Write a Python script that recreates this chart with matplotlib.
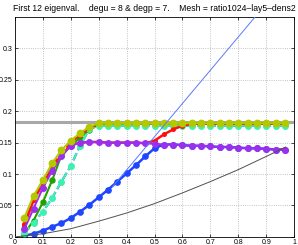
import numpy as np
import matplotlib.pyplot as plt

plt.rcParams['font.family'] = ['Liberation Sans', 'DejaVu Sans']

# parameter values (k/30)
x = [k / 30 for k in range(1, 30)]

blue_solid = [0.002, 0.005, 0.010, 0.016, 0.022, 0.030, 0.040, 0.051, 0.063, 0.075,
              0.088, 0.101, 0.114, 0.128, 0.141, 0.147, 0.147, 0.146, 0.145, 0.145,
              0.144, 0.143, 0.143, 0.142, 0.141, 0.141, 0.140, 0.139, 0.139]
green_solid = [0.005, 0.026, 0.055, 0.090, 0.130, 0.145, 0.158, 0.170, 0.179, 0.180,
               0.180, 0.180, 0.180, 0.180, 0.180, 0.180, 0.180, 0.180, 0.180, 0.180,
               0.180, 0.180, 0.180, 0.180, 0.180, 0.180, 0.180, 0.180, 0.180]
red_solid = [0.018, 0.058, 0.085, 0.110, 0.130, 0.146, 0.150, 0.151, 0.151, 0.150,
             0.150, 0.150, 0.150, 0.149, 0.153, 0.163, 0.171, 0.177, 0.180, 0.180,
             0.180, 0.180, 0.180, 0.180, 0.180, 0.180, 0.180, 0.180, 0.180]
red_dashed = [0.020, 0.060, 0.088, 0.113, 0.135, 0.150, 0.162, 0.173, 0.180, 0.181,
              0.181, 0.181, 0.181, 0.181, 0.181, 0.181, 0.181, 0.181, 0.181, 0.181,
              0.181, 0.181, 0.181, 0.181, 0.181, 0.181, 0.181, 0.181, 0.181]
cyan_dashed = [0.006, 0.022, 0.040, 0.062, 0.088, 0.113, 0.145, 0.172, 0.177, 0.177,
               0.177, 0.177, 0.177, 0.177, 0.177, 0.177, 0.177, 0.177, 0.177, 0.177,
               0.177, 0.177, 0.177, 0.177, 0.177, 0.177, 0.177, 0.177, 0.177]
purple_solid = [0.012, 0.045, 0.078, 0.105, 0.128, 0.145, 0.150, 0.151, 0.151, 0.150,
                0.150, 0.150, 0.150, 0.149, 0.148, 0.147, 0.147, 0.146, 0.145, 0.145,
                0.144, 0.143, 0.143, 0.142, 0.141, 0.141, 0.140, 0.139, 0.139]
olive_solid = [0.030, 0.065, 0.090, 0.117, 0.138, 0.153, 0.165, 0.175, 0.181, 0.181,
               0.181, 0.181, 0.181, 0.181, 0.181, 0.181, 0.181, 0.181, 0.181, 0.181,
               0.181, 0.181, 0.181, 0.181, 0.181, 0.181, 0.181, 0.181, 0.181]

# reference curves
ref_x = [0.0, 0.1, 0.2, 0.3, 0.4, 0.5, 0.6, 0.7, 0.8, 0.9, 0.97]
ref_y = [0.0, 0.005, 0.013, 0.025, 0.038, 0.053, 0.070, 0.088, 0.107, 0.128, 0.143]
slope_x = [0.35, 0.90]
slope_y = [0.080, 0.371]
level_y = 0.183

c_blue = '#1e46ff'
c_green = '#22a000'
c_red = '#ff1010'
c_cyan = '#40f0b0'
c_purple = '#9a30ee'
c_olive = '#b4c800'

fig = plt.figure(figsize=(2.98, 2.45), dpi=100)
ax = fig.add_axes([0.050, 0.033, 0.937, 0.898])

ax.axhline(level_y, color='#a8a8a8', lw=2.2, zorder=1)

ax.plot(x, blue_solid, '-o', color=c_blue, lw=1.8, ms=3.8, zorder=2)
ax.plot(x, cyan_dashed, '--', color=c_blue, lw=1.5, zorder=2)
ax.plot(x, green_solid, '-o', color=c_green, lw=1.5, ms=3.6, zorder=3)
ax.plot(x, cyan_dashed, '--o', color=c_cyan, lw=1.5, ms=4.0, zorder=4)
ax.plot(x, red_dashed, '--o', color=c_red, lw=1.5, ms=2.6, zorder=5)
ax.plot(x, red_solid, '-o', color=c_red, lw=1.8, ms=2.6, zorder=5)
ax.plot(x, purple_solid, '-o', color=c_purple, lw=1.5, ms=4.0, zorder=6)
ax.plot(x, olive_solid, '-o', color=c_olive, lw=1.5, ms=4.6, zorder=7)

ax.plot(ref_x, ref_y, color='#505050', lw=0.7, zorder=8)
ax.plot(slope_x, slope_y, color='#5a78ff', lw=0.7, zorder=8)

ax.set_xlim(0, 1)
ax.set_ylim(0, 0.35)
ax.set_xticks(np.arange(0, 1.01, 0.1))
ax.set_xticklabels(['0', '0.1', '0.2', '0.3', '0.4', '0.5', '0.6', '0.7', '0.8', '0.9', '1'])
ax.set_yticks([0, 0.05, 0.1, 0.15, 0.2, 0.25, 0.3])
ax.set_yticklabels(['0', '0.05', '0.1', '0.15', '0.2', '0.25', '0.3'])
ax.tick_params(direction='in', labelsize=5, length=2, width=0.5, pad=1.5,
               top=True, right=True)
ax.grid(True, linestyle=':', color='#b0b0b0', lw=0.6)
for s in ax.spines.values():
    s.set_linewidth(0.6)

ax.set_title('First 12 eigenval.    degu = 8 & degp = 7.    Mesh = ratio1024\u2013lay5\u2013dens2',
             fontsize=6.2, pad=4)

fig.savefig('out.png', dpi=100)
